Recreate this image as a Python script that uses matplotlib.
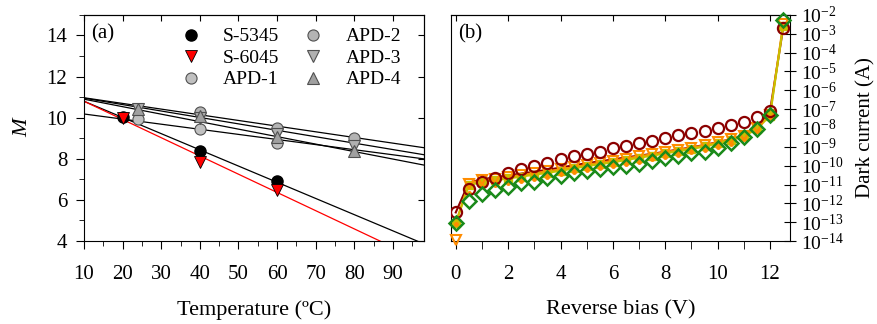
import numpy as np
import matplotlib.pyplot as plt
from matplotlib.ticker import LogLocator, MultipleLocator, NullLocator, LogFormatterSciNotation

plt.rcParams['font.family'] = ['Liberation Serif', 'DejaVu Serif']
plt.rcParams['mathtext.fontset'] = 'custom'
plt.rcParams['mathtext.rm'] = 'Liberation Serif'
plt.rcParams['mathtext.it'] = 'Liberation Serif:italic'

# ---- (a) gain M vs temperature ----
t_s5345 = [20, 40, 60]
m_s5345 = [10.05, 8.4, 6.9]
t_s6045 = [20, 40, 60]
m_s6045 = [10.0, 7.85, 6.5]
t_apd1 = [24, 40, 60]
m_apd1 = [9.93, 9.45, 8.77]
t_apd2 = [40, 60, 80]
m_apd2 = [10.28, 9.52, 9.0]
t_apd3 = [24, 40, 60, 80]
m_apd3 = [10.42, 10.0, 9.2, 8.6]
t_apd4 = [24, 40, 60, 80]
m_apd4 = [10.42, 10.06, 9.05, 8.4]

# linear fits: M at 10 degC and slope per degC
fit_m10 = [10.8, 10.8, 10.18, 10.97, 10.95, 10.9]
fit_slope = [-0.0788, -0.0887, -0.0248, -0.0276, -0.03125, -0.0364]
fit_color = ['black', 'red', 'black', 'black', 'black', 'black']

# ---- (b) dark current vs reverse bias (log10 of A) ----
bias = [0, 0.5, 1, 1.5, 2, 2.5, 3, 3.5, 4, 4.5, 5, 5.5, 6, 6.5, 7, 7.5, 8, 8.5,
        9, 9.5, 10, 10.5, 11, 11.5, 12, 12.5]
lg_circ = [-12.48, -11.26, -10.87, -10.64, -10.37, -10.19, -10.0, -9.84, -9.65, -9.49,
           -9.38, -9.26, -9.08, -8.94, -8.82, -8.67, -8.52, -8.39, -8.28, -8.14,
           -7.98, -7.84, -7.67, -7.43, -7.08, -2.7]
lg_diam = [-13.06, -11.9, -11.5, -11.3, -11.12, -10.94, -10.85, -10.67, -10.53, -10.41,
           -10.28, -10.2, -10.09, -10.0, -9.91, -9.77, -9.61, -9.49, -9.35, -9.26,
           -9.05, -8.82, -8.46, -8.05, -7.3, -2.25]
lg_sq = [-13.05, -11.05, -10.85, -10.78, -10.68, -10.58, -10.48, -10.38, -10.27, -10.15,
         -10.02, -9.92, -9.82, -9.7, -9.58, -9.47, -9.35, -9.23, -9.12, -8.98,
         -8.82, -8.65, -8.45, -8.05, -7.35, -2.6]
lg_tri = [-13.95, -10.95, -10.78, -10.7, -10.6, -10.5, -10.4, -10.3, -10.2, -10.08,
          -9.95, -9.85, -9.74, -9.62, -9.5, -9.4, -9.28, -9.16, -9.05, -8.92,
          -8.76, -8.6, -8.4, -8.0, -7.3, -2.5]
lg_dot = [-13.1, -11.45, -11.1, -11.0, -10.9, -10.8, -10.7, -10.6, -10.45, -10.35,
          -10.22, -10.12, -10.03, -9.9, -9.78, -9.66, -9.54, -9.42, -9.3, -9.17,
          -9.0, -8.85, -8.6, -8.15, -7.4, -2.55]
lg_redline = [-12.48, -10.9, -10.72, -10.62, -10.52, -10.42, -10.32, -10.22, -10.1, -9.98,
              -9.87, -9.77, -9.67, -9.56, -9.47, -9.37, -9.26, -9.14, -9.03, -8.9,
              -8.75, -8.6, -8.4, -8.0, -7.1, -2.7]
lg_orline = [-13.05, -10.92, -10.78, -10.7, -10.6, -10.5, -10.4, -10.3, -10.2, -10.08,
             -9.95, -9.85, -9.74, -9.62, -9.5, -9.4, -9.28, -9.16, -9.05, -8.92,
             -8.76, -8.6, -8.4, -8.0, -7.3, -2.5]

fig = plt.figure(figsize=(8.78, 3.24), dpi=100)
ax1 = fig.add_axes([0.0957, 0.256, 0.387, 0.698])
ax2 = fig.add_axes([0.5137, 0.256, 0.386, 0.698])

# panel a
tt = np.array([10, 98])
for b, s, c in zip(fit_m10, fit_slope, fit_color):
    ax1.plot(tt, b + s * (tt - 10), color=c, lw=0.9, zorder=2)

ms = 8
ax1.plot(t_s5345, m_s5345, 'o', color='black', ms=ms, label='S-5345', zorder=4)
ax1.plot(t_s6045, m_s6045, 'v', mfc='red', mec='black', mew=0.6, ms=ms, label='S-6045', zorder=4)
ax1.plot(t_apd1, m_apd1, 'o', mfc='#c0c0c0', mec='#505050', mew=0.8, ms=ms, label='APD-1', zorder=3)
ax1.plot(t_apd2, m_apd2, 'o', mfc='#b4b4b4', mec='#505050', mew=0.8, ms=ms, label='APD-2', zorder=3)
ax1.plot(t_apd3, m_apd3, 'v', mfc='#b0b0b0', mec='#505050', mew=0.8, ms=ms, label='APD-3', zorder=3)
ax1.plot(t_apd4, m_apd4, '^', mfc='#a0a0a0', mec='#505050', mew=0.8, ms=ms, label='APD-4', zorder=3)

ax1.set_xlim(10, 98)
ax1.set_ylim(4, 15)
ax1.xaxis.set_major_locator(MultipleLocator(10))
ax1.xaxis.set_minor_locator(MultipleLocator(5))
ax1.yaxis.set_major_locator(MultipleLocator(2))
ax1.yaxis.set_minor_locator(MultipleLocator(1))
ax1.tick_params(axis='both', which='major', direction='out', length=6, labelsize=15)
ax1.tick_params(axis='both', which='minor', direction='out', length=3.5)
ax1.tick_params(axis='x', pad=11)
ax1.tick_params(axis='y', pad=6)
top = ax1.secondary_xaxis('top')
top.xaxis.set_major_locator(MultipleLocator(10))
top.tick_params(direction='in', length=4, labeltop=False)
rgt = ax1.secondary_yaxis('right')
rgt.yaxis.set_major_locator(MultipleLocator(2))
rgt.tick_params(direction='in', length=4, labelright=False)
ax1.set_xlabel('Temperature (ºC)', fontsize=16, labelpad=12)
ax1.set_ylabel('M', fontsize=16, style='italic', labelpad=10)
ax1.text(0.02, 0.96, '(a)', transform=ax1.transAxes, fontsize=15, va='top')
ax1.legend(ncol=2, loc='upper left', bbox_to_anchor=(0.22, 1.02), frameon=False,
           fontsize=14, handletextpad=0.9, columnspacing=1.0, labelspacing=0.2,
           handlelength=1.5, markerfirst=True)

# panel b
b = np.array(bias)
ax2.plot(b, 10.0 ** np.array(lg_redline), '-', color='#8b0000', lw=1.5, zorder=2)
ax2.plot(b, 10.0 ** np.array(lg_orline), '-', color='#ff8c00', lw=1.5, zorder=2)
ax2.plot(b, 10.0 ** np.array(lg_sq), 's-', color='#c8c000', ms=6, lw=1.5, zorder=3)
ax2.plot(b, 10.0 ** np.array(lg_tri), 'v', mfc='none', mec='#ff8c00', mew=1.5, ms=7,
         zorder=4, clip_on=False)
ax2.plot(b, 10.0 ** np.array(lg_dot), '.', color='#ff8c00', ms=5, zorder=5)
ax2.plot(b, 10.0 ** np.array(lg_circ), 'o', mfc='none', mec='#8b0000', mew=1.6, ms=8, zorder=6)
ax2.plot(b, 10.0 ** np.array(lg_diam), 'D', mfc='none', mec='#1a8a1a', mew=1.8, ms=7, zorder=7,
         clip_on=False)

ax2.set_yscale('log')
ax2.set_xlim(-0.18, 12.76)
ax2.set_ylim(1e-14, 1e-2)
ax2.xaxis.set_major_locator(MultipleLocator(2))
ax2.xaxis.set_minor_locator(MultipleLocator(1))
ax2.yaxis.set_major_locator(LogLocator(base=10, numticks=30))
ax2.yaxis.set_major_formatter(LogFormatterSciNotation())
ax2.yaxis.set_minor_locator(NullLocator())
ax2.yaxis.tick_right()
ax2.yaxis.set_label_position('right')
ax2.tick_params(axis='x', which='major', direction='out', length=6, labelsize=15, pad=11)
ax2.tick_params(axis='x', which='minor', direction='out', length=6)
ax2.tick_params(axis='y', which='major', direction='inout', length=8, labelsize=14, pad=4)
topb = ax2.secondary_xaxis('top')
topb.xaxis.set_major_locator(MultipleLocator(2))
topb.tick_params(direction='in', length=4, labeltop=False)
ax2.set_xlabel('Reverse bias (V)', fontsize=16, labelpad=12)
ax2.set_ylabel('Dark current (A)', fontsize=15, rotation=90, labelpad=9)
ax2.text(0.02, 0.96, '(b)', transform=ax2.transAxes, fontsize=15, va='top')

fig.savefig('out.png', dpi=100)
